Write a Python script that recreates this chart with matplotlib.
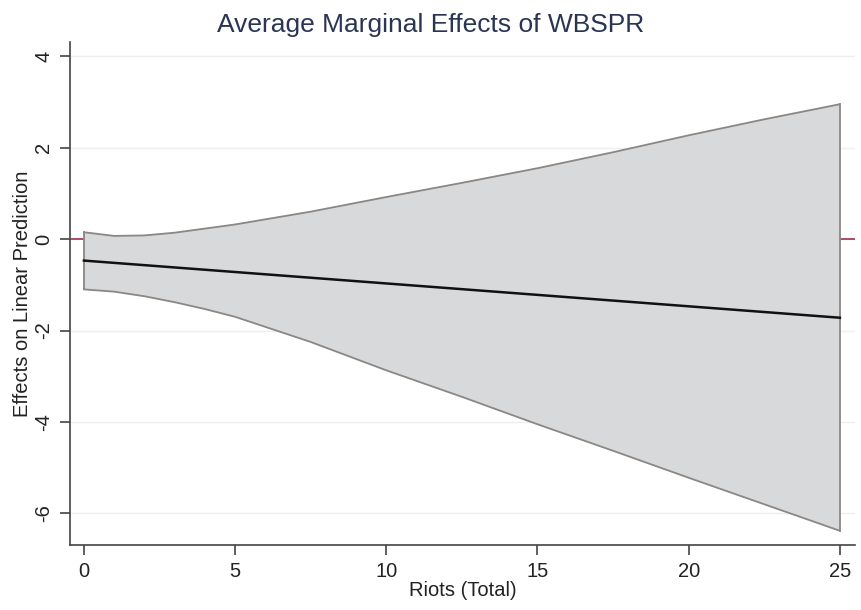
import matplotlib
matplotlib.use("Agg")
import matplotlib.pyplot as plt
import numpy as np

plt.rcParams["font.family"] = ["Liberation Sans", "DejaVu Sans"]

# Data
riots = [0, 1, 2, 3, 4, 5, 7.5, 10, 12.5, 15, 17.5, 20, 22.5, 25]
upper = [0.15, 0.07, 0.08, 0.14, 0.23, 0.32, 0.60, 0.92, 1.23, 1.55, 1.90, 2.27, 2.62, 2.95]
lower = [-1.10, -1.15, -1.25, -1.38, -1.53, -1.70, -2.25, -2.87, -3.45, -4.05, -4.63, -5.22, -5.80, -6.38]
effect = [-0.47, -0.52, -0.57, -0.62, -0.67, -0.72, -0.845, -0.97, -1.095, -1.22, -1.345, -1.47, -1.595, -1.72]

xticks = [0, 5, 10, 15, 20, 25]
yticks = [-6, -4, -2, 0, 2, 4]

fig = plt.figure(figsize=(8.61, 6.10), dpi=100)
ax = fig.add_axes([0.0813, 0.1066, 0.9117, 0.8245])

ax.set_xlim(-0.46, 25.5)
ax.set_ylim(-6.69, 4.31)

for yv in yticks:
    ax.axhline(yv, color="#eeeeee", lw=1.0, zorder=0)
ax.axhline(0, color="#a0304a", lw=1.2, zorder=1)

ax.fill_between(riots, lower, upper, facecolor="#d8d9da", edgecolor="none", zorder=2)
ax.plot(riots, upper, color="#8a8784", lw=1.3, zorder=3)
ax.plot(riots, lower, color="#8a8784", lw=1.3, zorder=3)
ax.plot([riots[0], riots[0]], [lower[0], upper[0]], color="#8a8784", lw=1.3, zorder=3)
ax.plot([riots[-1], riots[-1]], [lower[-1], upper[-1]], color="#8a8784", lw=1.3, zorder=3)
ax.plot(riots, effect, color="#111111", lw=1.8, zorder=4)

ax.spines["top"].set_visible(False)
ax.spines["right"].set_visible(False)
for s in ("left", "bottom"):
    ax.spines[s].set_color("#444444")
    ax.spines[s].set_linewidth(1.2)

ax.set_xticks(xticks)
ax.set_yticks(yticks)
ax.set_xticklabels([str(v) for v in xticks], fontsize=14.5, color="#222222")
ax.set_yticklabels([str(v) for v in yticks], fontsize=14.5, color="#222222", rotation=90, va="center")
ax.tick_params(axis="both", direction="out", length=7, width=1.2, color="#444444", pad=5)

ax.set_xlabel("Riots (Total)", fontsize=14.5, color="#222222", labelpad=0)
ax.set_ylabel("Effects on Linear Prediction", fontsize=14.5, color="#222222", labelpad=2)
fig.text(0.5, 0.978, "Average Marginal Effects of WBSPR", ha="center", va="top",
         fontsize=19, color="#2a3553")

fig.savefig("out.png", dpi=100, facecolor="white")
